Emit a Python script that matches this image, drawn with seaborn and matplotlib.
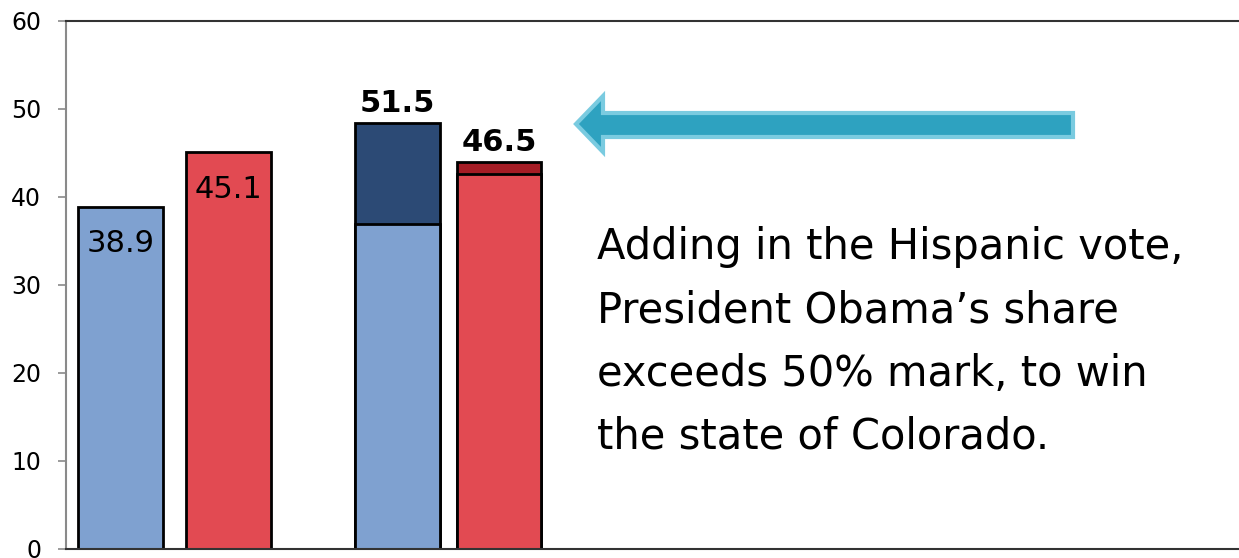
import pandas as pd
import matplotlib.pyplot as plt
import matplotlib.patches as mpatches
import seaborn as sns

# Data
BARS = ["Obama", "Romney", "Obama + Hispanic", "Romney + Hispanic"]
BASE = [38.9, 45.1, 36.9, 42.6]
ADDED = [0.0, 0.0, 11.5, 1.4]
INSIDE_LABELS = ["38.9", "45.1", "", ""]
TOP_LABELS = ["", "", "51.5", "46.5"]
NOTE = ["Adding in the Hispanic vote,",
        "President Obama\u2019s share",
        "exceeds 50% mark, to win",
        "the state of Colorado."]

# Layout (x in units of 100 px from the left spine)
POS = [0.545, 1.625, 3.315, 4.33]
W, H = 1239, 558
LIGHT_BLUE = "#7FA1D0"
RED = "#E24A52"
DARK_BLUE = "#2C4A75"
DARK_RED = "#A51C25"

sns.set_style("white")
plt.rcParams["font.family"] = ["DejaVu Sans"]

fig = plt.figure(figsize=(W / 100, H / 100), dpi=100)
ax = fig.add_axes([66 / W, 1 - 549 / H, 1 - 66 / W, (549 - 21) / H])

totals = [b + a for b, a in zip(BASE, ADDED)]
df_tot = pd.DataFrame({"pos": POS, "value": totals, "bar": BARS})
top_colors = dict(zip(BARS, [LIGHT_BLUE, RED, DARK_BLUE, DARK_RED]))
sns.barplot(data=df_tot, x="pos", y="value", hue="bar", palette=top_colors,
            native_scale=True, dodge=False, legend=False, errorbar=None,
            saturation=1, width=0.83, edgecolor="black", linewidth=2, ax=ax)

# lower part of the stacked bars drawn over the totals
stacked = [i for i, a in enumerate(ADDED) if a > 0]
df_base = pd.DataFrame({"pos": [POS[i] for i in stacked],
                        "value": [BASE[i] for i in stacked],
                        "bar": [BARS[i] for i in stacked]})
base_colors = {BARS[i]: (LIGHT_BLUE if i % 2 == 0 else RED) for i in stacked}
sns.barplot(data=df_base, x="pos", y="value", hue="bar", palette=base_colors,
            native_scale=True, dodge=False, legend=False, errorbar=None,
            saturation=1, width=0.83, edgecolor="black", linewidth=2, ax=ax)

for x, tot, lab in zip(POS, totals, INSIDE_LABELS):
    if lab:
        ax.text(x, tot - 4.2, lab, ha="center", va="center", fontsize=22, color="black")
for x, tot, lab in zip(POS, totals, TOP_LABELS):
    if lab:
        ax.text(x, tot + 0.6, lab, ha="center", va="bottom", fontsize=22,
                fontweight="bold", color="black")

ax.set_xlim(0, (W - 66) / 100)
ax.set_ylim(0, 60)
ax.set_yticks(range(0, 61, 10))
ax.set_xticks([])
ax.set_xlabel("")
ax.set_ylabel("")
ax.tick_params(axis="y", which="both", left=True, length=6, width=1.2,
               color="#8a8a8a", pad=12, labelsize=17, labelcolor="black")
for side in ["top", "bottom"]:
    ax.spines[side].set_color("#333333")
    ax.spines[side].set_linewidth(1.5)
ax.spines["left"].set_color("#8a8a8a")
ax.spines["left"].set_linewidth(1.5)
ax.spines["right"].set_visible(False)

# Arrow pointing at the stacked bars (pixel coords, y measured from top)
arrow_px = [(576, 124), (603, 96), (603, 113), (1073, 113),
            (1073, 137), (603, 137), (603, 152)]
arrow_pts = [(x / W, 1 - y / H) for x, y in arrow_px]
fig.patches.append(mpatches.Polygon(arrow_pts, closed=True, transform=fig.transFigure,
                                    facecolor="#2EA2C0", edgecolor="#7ACBE0",
                                    linewidth=3, joinstyle="miter"))

# Note text
for i, line in enumerate(NOTE):
    fig.text(597 / W, 1 - (259 + 63.3 * i) / H, line, ha="left", va="baseline",
             fontsize=30, color="black")

fig.savefig("out.png", dpi=100)
